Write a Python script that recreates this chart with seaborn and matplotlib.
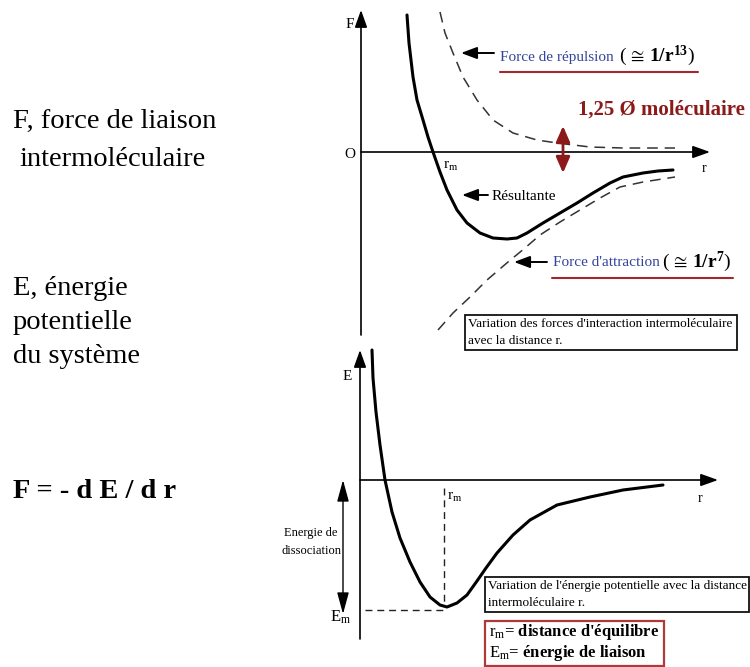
import matplotlib
matplotlib.use("Agg")
import matplotlib.pyplot as plt
from matplotlib.patches import Rectangle
import seaborn as sns

# ---------------- curve data (arbitrary units) ----------------
# Forces versus distance r
r_res = [4.6, 4.8, 5.2, 5.6, 6.2, 6.7, 7.2, 7.9, 8.6, 9.6, 10.6, 11.9, 13.2, 14.6,
         15.6, 16.6, 18.2, 19.9, 21.6, 23.2, 24.9, 26.2, 28.2, 29.7, 31.2]
F_res = [13.7, 10.9, 7.5, 5.2, 3.2, 1.5, 0.0, -2.0, -3.8, -5.8, -7.1, -8.1, -8.6, -8.7,
         -8.6, -8.1, -7.1, -6.1, -5.1, -4.1, -3.1, -2.5, -2.1, -1.9, -1.8]

r_rep = [7.9, 8.4, 9.2, 10.2, 11.6, 13.2, 15.2, 17.6, 19.6, 22.9, 26.2, 31.4]
F_rep = [14.0, 11.9, 9.9, 7.5, 5.2, 3.2, 1.9, 1.2, 0.9, 0.5, 0.4, 0.4]

r_att = [7.7, 9.2, 10.9, 12.6, 14.7, 16.4, 17.9, 19.9, 21.9, 23.9, 25.9, 28.2, 31.4]
F_att = [-17.8, -16.1, -14.5, -12.8, -11.0, -9.6, -8.3, -7.0, -5.8, -4.6, -3.5, -3.0, -2.5]

# Potential energy versus distance r
r_pot = [1.2, 1.3, 1.6, 2.0, 2.5, 3.2, 4.0, 5.0, 6.0, 7.0, 8.0, 8.7, 9.7, 10.7,
         11.7, 12.6, 13.7, 15.3, 17.0, 19.7, 23.0, 26.3, 30.3]
E_pot = [13.0, 10.2, 6.8, 3.5, 0.0, -3.2, -5.8, -8.2, -10.2, -11.7, -12.5, -12.7, -12.3, -11.5,
         -10.1, -8.8, -7.3, -5.5, -4.0, -2.5, -1.7, -1.0, -0.5]

r_m = 8.4      # equilibrium distance
E_m = -12.7    # bond energy (minimum of E)

# ---------------- style ----------------
sns.set_style("white")
plt.rcParams["font.family"] = ["Liberation Serif", "DejaVu Serif"]
plt.rcParams["text.color"] = "black"
plt.rcParams["mathtext.fontset"] = "custom"
plt.rcParams["mathtext.rm"] = "Liberation Serif"
plt.rcParams["mathtext.it"] = "Liberation Serif:italic"
plt.rcParams["mathtext.bf"] = "Liberation Serif:bold"
plt.rcParams["lines.solid_joinstyle"] = "round"
plt.rcParams["lines.dash_joinstyle"] = "round"

W, H = 750, 667
fig = plt.figure(figsize=(7.5, 6.67), dpi=100)
fig.patch.set_facecolor("white")

DARKRED = "#8b1a1a"
LINERED = "#a3282d"
BLUE = "#33449a"
DASH = (0, (7, 4.5))

# ---------------- force panel ----------------
ax1 = fig.add_axes([300 / W, (H - 345) / H, 450 / W, 345 / H])
sns.lineplot(x=r_rep, y=F_rep, sort=False, estimator=None, ax=ax1,
             color="#333333", lw=1.1, linestyle=DASH)
sns.lineplot(x=r_att, y=F_att, sort=False, estimator=None, ax=ax1,
             color="#333333", lw=1.1, linestyle=DASH)
sns.lineplot(x=r_res, y=F_res, sort=False, estimator=None, ax=ax1,
             color="black", lw=2.2)
ax1.set_xlim(-6.1, 38.9)
ax1.set_ylim(-19.3, 15.2)
ax1.set_axis_off()

axis_arrow = dict(arrowstyle="-|>,head_length=0.7,head_width=0.25", color="black",
                  lw=1.2, mutation_scale=15, shrinkA=0, shrinkB=0)
ax1.annotate("", xy=(0, 14.2), xytext=(0, -18.3), arrowprops=axis_arrow)
ax1.annotate("", xy=(34.9, 0), xytext=(0, 0), arrowprops=axis_arrow)

# ---------------- energy panel ----------------
ax2 = fig.add_axes([240 / W, 0, 510 / W, 322 / H])
sns.lineplot(x=r_pot, y=E_pot, sort=False, estimator=None, ax=ax2,
             color="black", lw=2.2)
ax2.plot([r_m, r_m], [-0.8, E_m], color="#222222", lw=1.0, linestyle=(0, (5, 3.5)))
ax2.plot([0.5, r_m], [E_m - 0.3, E_m - 0.3], color="#222222", lw=1.0, linestyle=(0, (5, 3.5)))
ax2.set_xlim(-12, 39)
ax2.set_ylim(-18.7, 13.5)
ax2.set_axis_off()
ax2.annotate("", xy=(0, 13.0), xytext=(0, -15.9), arrowprops=axis_arrow)
ax2.annotate("", xy=(35.8, 0), xytext=(0, 0), arrowprops=axis_arrow)

# ---------------- annotation layer (pixel coordinates) ----------------
ov = fig.add_axes([0, 0, 1, 1])
ov.set_xlim(0, W)
ov.set_ylim(H, 0)
ov.set_axis_off()
ov.patch.set_alpha(0)


def txt(x, y, s, size, ha="left", va="center", **kw):
    ov.text(x, y, s, fontsize=size, ha=ha, va=va, **kw)


def pointer(x0, x1, y, color="black"):
    ov.annotate("", xy=(x1, y), xytext=(x0, y),
                arrowprops=dict(arrowstyle="-|>,head_length=0.8,head_width=0.3",
                                color=color, lw=1.4, mutation_scale=12,
                                shrinkA=0, shrinkB=0))


# left-hand descriptions
txt(13, 128, "F, force de liaison", 20.5, va="baseline")
txt(19, 166, "intermoléculaire", 20.5, va="baseline")
txt(13, 295, "E, énergie", 20.5, va="baseline")
txt(13, 329, "potentielle", 20.5, va="baseline")
txt(13, 363, "du système", 20.5, va="baseline")
txt(13, 498, "F = - d E / d r", 20.5, va="baseline", fontweight="bold")

# force panel labels
txt(350, 25, "F", 11, ha="center")
txt(350, 155, "O", 11, ha="center")
txt(704, 168, "r", 10, ha="center")
txt(443, 166, r"$\mathrm{r_m}$", 11)

pointer(494, 461, 53)
txt(500, 57, "Force de répulsion", 11, color=BLUE)
txt(619, 56, r"$(\,\cong\,\mathbf{1/r^{13}})$", 14)
ov.plot([500, 698], [72, 72], color=LINERED, lw=1.5)

txt(578, 110, "1,25 Ø moléculaire", 15, fontweight="bold", color=DARKRED)
ov.annotate("", xy=(563, 126), xytext=(563, 173),
            arrowprops=dict(arrowstyle="<|-|>,head_length=0.8,head_width=0.35",
                            color=DARKRED, lw=2.0, mutation_scale=12,
                            shrinkA=0, shrinkB=0))

pointer(488, 462, 195)
txt(492, 197, "Résultante", 11)

pointer(547, 514, 262)
txt(553, 263, "Force d'attraction", 11, color=BLUE)
txt(662, 262, r"$(\,\cong\,\mathbf{1/r^{7}})$", 14)
ov.plot([552, 733], [278, 278], color=LINERED, lw=1.5)

ov.add_patch(Rectangle((465, 315), 272, 35, fill=True, facecolor="white",
                       edgecolor="#111111", lw=1.3))
txt(468, 324, "Variation des forces d'interaction intermoléculaire", 9.5)
txt(468, 341, "avec la distance r.", 9.5)

# energy panel labels
txt(347, 377, "E", 11, ha="center")
txt(700, 498, "r", 10, ha="center")
txt(447, 497, r"$\mathrm{r_m}$", 11)
txt(330, 617, r"$\mathrm{E_m}$", 12)

ov.annotate("", xy=(343, 480), xytext=(343, 614),
            arrowprops=dict(arrowstyle="<|-|>,head_length=1.1,head_width=0.3",
                            color="black", lw=1.0, mutation_scale=12,
                            shrinkA=0, shrinkB=0))
txt(311, 533, "Energie de", 9, ha="center")
txt(312, 551, "dissociation", 9, ha="center")

ov.add_patch(Rectangle((485, 577), 264, 35, fill=True, facecolor="white",
                       edgecolor="#111111", lw=1.3))
txt(488, 586, "Variation de l'énergie potentielle avec la distance", 9.5)
txt(488, 603, "intermoléculaire r.", 9.5)

ov.add_patch(Rectangle((485, 621), 179, 45, fill=True, facecolor="white",
                       edgecolor="#b03a3a", lw=1.6))
txt(489, 632, r"$\mathrm{r_m}$= distance d'équilibre", 12, fontweight="bold")
txt(489, 653, r"$\mathrm{E_m}$= énergie de liaison", 12, fontweight="bold")

fig.savefig("out.png", dpi=100)
